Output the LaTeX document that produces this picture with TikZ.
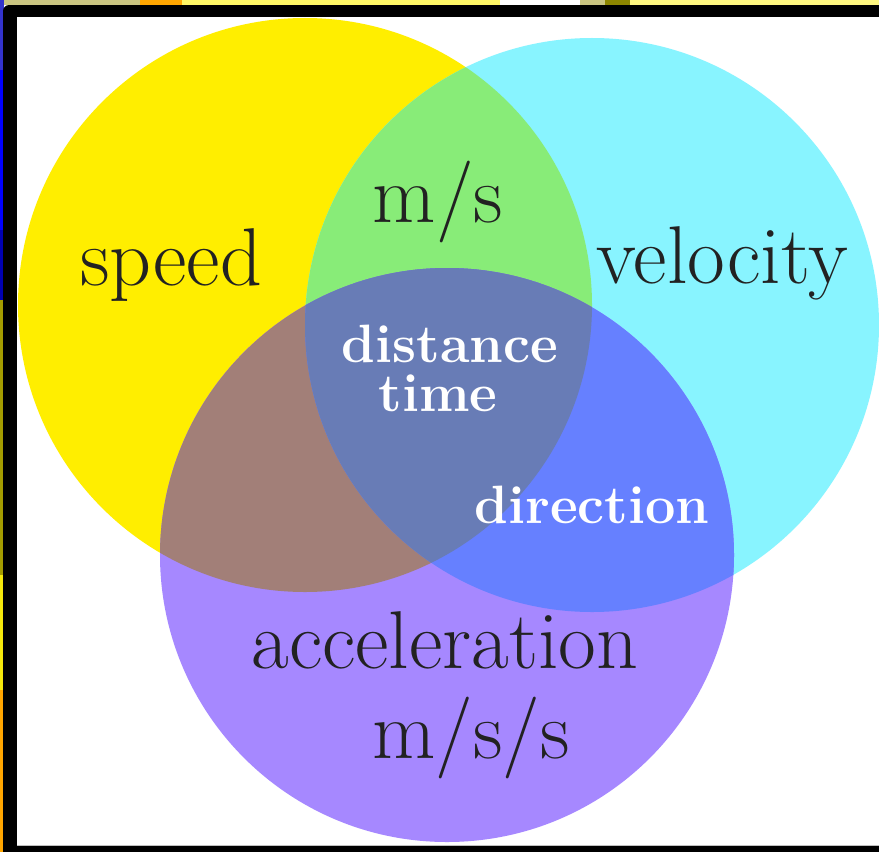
\documentclass[tikz,border=0pt]{standalone}
\usepackage{xcolor}
\usepackage{tikz}

\definecolor{speedyel}{HTML}{FFEE00}
\definecolor{velcyan}{HTML}{88F4FF}
\definecolor{accpurple}{HTML}{A688FF}
\definecolor{svgreen}{HTML}{88EC78}
\definecolor{sabrown}{HTML}{A27F78}
\definecolor{vablue}{HTML}{6680FF}
\definecolor{allblue}{HTML}{687CB6}
\definecolor{inkgray}{HTML}{222222}

\begin{document}
\begin{tikzpicture}[
  x=1bp, y=-1bp,
  big/.style={font=\fontsize{82bp}{82bp}\selectfont, text=inkgray, inner sep=0pt, anchor=base},
  small/.style={font=\fontsize{54bp}{54bp}\selectfont\bfseries, text=white, inner sep=0pt, text depth=0pt, anchor=base},
  rad/.style={radius=287bp}
]

\useasboundingbox (0,0) rectangle (879,852);

% ---------- screen edges round the frame ----------
\fill[black!40!yellow!60] (0,0) rectangle (879,5);
\fill[orange!70!yellow] (140,0) rectangle (182,5);
\fill[yellow!60] (182,0) rectangle (500,5);
\fill[white] (500,0) rectangle (580,5);
\fill[olive] (605,0) rectangle (630,5);
\fill[yellow!50] (630,0) rectangle (879,5);
\fill[blue!60!gray] (0,0) rectangle (4,70);
\fill[blue] (0,70) rectangle (4,230);
\fill[blue!70!black] (0,230) rectangle (4,300);
\fill[olive!80!yellow] (0,300) rectangle (4,575);
\fill[yellow!95!black] (0,575) rectangle (4,690);
\fill[orange!70!yellow] (0,690) rectangle (4,852);

% ---------- frame (open on the right) ----------
\fill[black] (3,852) [rounded corners=6bp] -- (3,5) [sharp corners] -- (879,5) -- (879,17)
  -- (17,17) -- (17,845) -- (879,845) -- (879,852) -- cycle;
\fill[white] (17,17) rectangle (879,845);
\draw[gray!50, line width=1bp] (17,845) -- (879,845);

% ---------- circles ----------
\coordinate (speedc) at (305,305);
\coordinate (velc) at (592,325);
\coordinate (accc) at (447,555);

\fill[speedyel] (speedc) circle[rad];
\fill[velcyan] (velc) circle[rad];
\fill[accpurple] (accc) circle[rad];

% ---------- overlaps ----------
\begin{scope}
\clip (speedc) circle[rad];
\fill[svgreen] (velc) circle[rad];
\fill[sabrown] (accc) circle[rad];
\end{scope}
\begin{scope}
\clip (velc) circle[rad];
\fill[vablue] (accc) circle[rad];
\end{scope}
\begin{scope}
\clip (speedc) circle[rad];
\clip (velc) circle[rad];
\fill[allblue] (accc) circle[rad];
\end{scope}

% ---------- labels ----------
\node[big] (speed) at (171,285) {speed};
\node[big] (vel) at (722,283) {velocity};
\node[big] (svunit) at (438,222) {m/s};
\node[big] (acc) at (445,668) {acceleration};
\node[big] (accunit) at (471,758) {m/s/s};

\node[small] (dist) at (450,362) {distance};
\node[small] (tme) at (438,411) {time};
\node[small] (dir) at (592,523) {direction};

\end{tikzpicture}
\end{document}
